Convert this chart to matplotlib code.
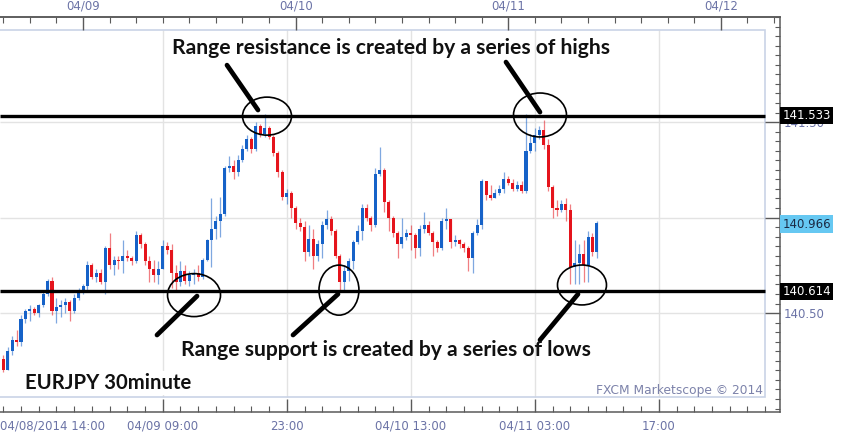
"""EURJPY 30 minute chart with range support / resistance annotations."""

from datetime import datetime

import matplotlib

matplotlib.use("Agg")
import matplotlib.dates as mdates
import matplotlib.pyplot as plt
import numpy as np
import pandas as pd
from matplotlib.patches import Ellipse, Rectangle
from matplotlib.ticker import FixedFormatter, FixedLocator, MultipleLocator


# ---- data (30 minute bars from 04/08 15:00) ----
FIRST_BAR = "2014-04-08 15:00"
FIRST_OPEN = 140.26

close = [
    140.20, 140.30, 140.36, 140.35, 140.47, 140.51, 140.52, 140.50, 140.54, 140.60,
    140.67, 140.51, 140.53, 140.54, 140.56, 140.51, 140.58, 140.62, 140.64, 140.75,
    140.69, 140.71, 140.66, 140.84, 140.75, 140.78, 140.77, 140.80, 140.79, 140.77,
    140.91, 140.86, 140.77, 140.73, 140.70, 140.73, 140.85, 140.83, 140.71, 140.66,
    140.72, 140.67, 140.70, 140.71, 140.69, 140.78, 140.88, 140.94, 140.98, 141.02,
    141.26, 141.27, 141.24, 141.30, 141.36, 141.41, 141.36, 141.48, 141.44, 141.47,
    141.42, 141.34, 141.24, 141.11, 141.13, 141.05, 140.97, 140.95, 140.82, 140.89,
    140.80, 140.86, 140.96, 140.99, 140.93, 140.80, 140.66, 140.72, 140.77, 140.87,
    140.93, 141.05, 141.00, 140.96, 141.23, 141.25, 141.08, 141.00, 140.92, 140.86,
    140.90, 140.92, 140.91, 140.84, 140.94, 140.96, 140.92, 140.87, 140.84, 140.98,
    140.99, 140.87, 140.88, 140.86, 140.84, 140.79, 140.92, 140.96, 141.19, 141.12,
    141.10, 141.13, 141.15, 141.20, 141.18, 141.15, 141.17, 141.14, 141.35, 141.39,
    141.43, 141.46, 141.38, 141.16, 141.05, 141.04, 141.07, 141.04, 140.74, 140.76,
    140.81, 140.75, 140.90, 140.82, 140.97,
]

high = [
    140.28, 140.32, 140.38, 140.41, 140.49, 140.52, 140.54, 140.53, 140.55, 140.61,
    140.68, 140.69, 140.58, 140.57, 140.58, 140.57, 140.60, 140.63, 140.65, 140.77,
    140.76, 140.73, 140.73, 140.85, 140.92, 140.80, 140.80, 140.88, 140.83, 140.80,
    140.93, 140.92, 140.87, 140.80, 140.78, 140.77, 140.88, 140.87, 140.86, 140.75,
    140.77, 140.75, 140.72, 140.73, 140.75, 140.79, 140.89, 141.10, 141.01, 141.11,
    141.27, 141.32, 141.30, 141.33, 141.38, 141.43, 141.42, 141.50, 141.49, 141.54,
    141.48, 141.43, 141.35, 141.25, 141.15, 141.14, 141.06, 141.00, 140.98, 140.96,
    140.94, 140.88, 140.98, 141.04, 141.01, 140.94, 140.81, 140.75, 140.79, 140.88,
    140.96, 141.07, 141.07, 141.01, 141.26, 141.37, 141.26, 141.09, 141.01, 140.93,
    141.00, 140.94, 140.96, 140.92, 140.96, 141.03, 140.98, 140.93, 140.88, 141.00,
    141.05, 140.99, 140.91, 140.89, 140.87, 140.85, 140.93, 140.99, 141.20, 141.19,
    141.17, 141.15, 141.17, 141.24, 141.22, 141.20, 141.19, 141.19, 141.54, 141.44,
    141.47, 141.48, 141.51, 141.41, 141.17, 141.09, 141.09, 141.10, 141.07, 140.88,
    140.86, 140.88, 140.93, 140.92, 140.98,
]

low = [
    140.19, 140.20, 140.28, 140.33, 140.33, 140.45, 140.46, 140.49, 140.48, 140.53,
    140.59, 140.49, 140.45, 140.48, 140.50, 140.46, 140.50, 140.57, 140.60, 140.62,
    140.68, 140.66, 140.65, 140.60, 140.73, 140.70, 140.73, 140.71, 140.77, 140.75,
    140.76, 140.84, 140.75, 140.66, 140.66, 140.65, 140.73, 140.81, 140.63, 140.62,
    140.64, 140.65, 140.64, 140.65, 140.67, 140.68, 140.77, 140.74, 140.89, 140.90,
    141.01, 141.24, 141.20, 141.22, 141.29, 141.35, 141.34, 141.35, 141.42, 141.42,
    141.41, 141.32, 141.21, 141.09, 141.07, 141.00, 140.94, 140.93, 140.77, 140.80,
    140.73, 140.77, 140.79, 140.94, 140.91, 140.79, 140.62, 140.62, 140.67, 140.73,
    140.86, 140.88, 140.98, 140.93, 140.95, 141.22, 141.03, 140.93, 140.90, 140.79,
    140.84, 140.88, 140.83, 140.79, 140.80, 140.92, 140.91, 140.80, 140.82, 140.83,
    140.94, 140.84, 140.85, 140.84, 140.82, 140.72, 140.71, 140.91, 140.94, 141.09,
    141.09, 141.10, 141.12, 141.13, 141.17, 141.14, 141.14, 141.13, 141.13, 141.34,
    141.35, 141.41, 141.36, 141.14, 141.00, 141.01, 141.03, 140.98, 140.65, 140.65,
    140.65, 140.66, 140.66, 140.80, 140.79,
]

RESISTANCE = 141.533
SUPPORT = 140.614
LAST_PRICE = 140.966

price_ticks = [140.50, 141.00, 141.50]
price_tick_labels = ["140.50", "", "141.50"]   # 141.00 sits under the last-price box
bottom_tick_times = ["2014-04-09 09:00", "2014-04-09 23:00", "2014-04-10 13:00",
                     "2014-04-11 03:00", "2014-04-11 17:00"]
bottom_tick_labels = ["04/09 09:00", "23:00", "04/10 13:00", "04/11 03:00", "17:00"]
FIRST_TIME_LABEL = "04/08/2014 14:00"

# ---- styling ----
UP_COLOR = "#1662c8"
DOWN_COLOR = "#e5141c"
AXIS_COLOR = "#5a5a5a"
LABEL_COLOR = "#6b73a6"
GRID_COLOR = "#e3e3e3"
FRAME_COLOR = "#c9d3e6"
ANNOT_FONT = ["Lato", "DejaVu Sans"]

BASE = mdates.date2num(datetime(2014, 4, 8))


def at(hours):
    """Hours since 04/08 00:00 -> matplotlib date number."""
    return BASE + hours / 24.0


def num(ts):
    return mdates.date2num(pd.Timestamp(ts).to_pydatetime())


times = pd.date_range(FIRST_BAR, periods=len(close), freq="30min")
x = mdates.date2num(times.to_pydatetime())
c = np.asarray(close)
o = np.concatenate([[FIRST_OPEN], c[:-1]])
h = np.asarray(high)
lo = np.asarray(low)
up = c >= o
colors = np.where(up, UP_COLOR, DOWN_COLOR)

x_left, x_right = at(14.63), at(102.67)
frame_right = at(100.97)
y_bottom, y_top = 139.982, 142.05
frame_bottom, frame_top = 140.06, 141.982

fig = plt.figure(figsize=(8.43, 4.38), dpi=100)
ax = fig.add_axes([0.0, 26 / 438, 780 / 843, 395 / 438])
ax.set_xlim(x_left, x_right)
ax.set_ylim(y_bottom, y_top)

# inner chart frame and grid
ax.add_patch(Rectangle((x_left - 1, frame_bottom), frame_right - x_left + 1,
                       frame_top - frame_bottom, fill=False, ec=FRAME_COLOR,
                       lw=1.2, zorder=0.6))
for t in bottom_tick_times:
    ax.vlines(num(t), frame_bottom, frame_top, color=GRID_COLOR, lw=1, zorder=0.5)
for level in price_ticks:
    ax.hlines(level, x_left, frame_right, color=GRID_COLOR, lw=1, zorder=0.5)

# candles
bar_w = 0.34 / 24
ax.vlines(x, lo, h, colors=colors, lw=0.9, alpha=0.55, zorder=2)
body = np.where(np.abs(c - o) < 0.004, 0.004, c - o)
ax.bar(x, body, bottom=o, width=bar_w, color=colors, lw=0, zorder=2.2)

# range lines
ax.hlines([RESISTANCE, SUPPORT], x_left, frame_right, color="black", lw=2.4, zorder=3)

# circles around the highs / lows
ellipses = [
    (44.77, 141.531, 5.53, 0.199),
    (75.58, 141.537, 5.98, 0.230),
    (36.53, 140.594, 5.98, 0.225),
    (52.89, 140.620, 4.51, 0.262),
    (80.32, 140.647, 5.53, 0.209),
]
for hx, py, w, ht in ellipses:
    ax.add_patch(Ellipse((at(hx), py), w / 24, ht, fill=False, ec="black",
                         lw=1.2, zorder=4))

pointers = [
    ((40.25, 141.798), (43.75, 141.563)),
    ((71.74, 141.814), (75.58, 141.552)),
    ((32.35, 140.385), (36.87, 140.589)),
    ((47.70, 140.385), (52.78, 140.599)),
    ((75.58, 140.359), (79.87, 140.599)),
]
for (h0, p0), (h1, p1) in pointers:
    ax.plot([at(h0), at(h1)], [p0, p1], color="black", lw=3.4,
            solid_capstyle="round", zorder=4)

ax.text(at(58.76), 141.887, "Range resistance is created by a series of highs",
        ha="center", va="center", fontsize=15.2, fontweight="bold",
        family=ANNOT_FONT, color="#111111", zorder=5)
ax.text(at(58.2), 140.306, "Range support is created by a series of lows",
        ha="center", va="center", fontsize=15.2, fontweight="bold",
        family=ANNOT_FONT, color="#111111", zorder=5)
ax.text(at(17.45), 140.134, "EURJPY 30minute", ha="left", va="center",
        fontsize=14.6, fontweight="bold", family=ANNOT_FONT, color="#111111",
        zorder=5, bbox=dict(boxstyle="square,pad=0.12", fc="white", ec="none"))
ax.text(at(100.75), 140.092, "FXCM Marketscope \u00a9 2014", ha="right",
        va="center", fontsize=8.8, color="#7c82aa", zorder=5)

# price boxes on the right scale
yx = ax.get_yaxis_transform()
for price, fc, tc in [(RESISTANCE, "black", "white"),
                      (LAST_PRICE, "#66c8f2", "#1b2a44"),
                      (SUPPORT, "black", "white")]:
    ax.text(1.003, price, f"{price:.3f}", transform=yx, ha="left", va="center",
            fontsize=8.5, color=tc, zorder=10, clip_on=False,
            bbox=dict(boxstyle="square,pad=0.18", fc=fc, ec="none"))

# spines
for side in ("top", "right", "bottom"):
    ax.spines[side].set_color(AXIS_COLOR)
    ax.spines[side].set_linewidth(1.1)
ax.spines["left"].set_visible(False)

# bottom time axis
ax.xaxis.set_major_locator(FixedLocator([num(t) for t in bottom_tick_times]))
ax.xaxis.set_major_formatter(FixedFormatter(bottom_tick_labels))
ax.xaxis.set_minor_locator(mdates.HourLocator(byhour=range(1, 24, 2)))
ax.tick_params(axis="x", which="major", direction="in", length=9.5, width=1,
               color=AXIS_COLOR, labelcolor=LABEL_COLOR, labelsize=8.5, pad=5.5)
ax.tick_params(axis="x", which="minor", direction="in", length=4.5, width=0.8,
               color=AXIS_COLOR)
ax.annotate(FIRST_TIME_LABEL, xy=(0, 0), xycoords="axes fraction",
            xytext=(0, -5.5), textcoords="offset points", ha="left", va="top",
            fontsize=8.5, color=LABEL_COLOR, annotation_clip=False)

# right price axis
ax.yaxis.tick_right()
ax.yaxis.set_major_locator(FixedLocator(price_ticks))
ax.yaxis.set_major_formatter(FixedFormatter(price_tick_labels))
ax.yaxis.set_minor_locator(MultipleLocator(0.05))
ax.tick_params(axis="y", which="major", direction="in", length=10.8, width=1,
               color=AXIS_COLOR, labelcolor=LABEL_COLOR, labelsize=8.5, pad=3)
ax.tick_params(axis="y", which="minor", direction="in", length=3.8, width=0.8,
               color=AXIS_COLOR)

# top date axis
top = ax.twiny()
top.set_xlim(x_left, x_right)
top.xaxis.set_major_locator(mdates.DayLocator())
top.xaxis.set_major_formatter(mdates.DateFormatter("%m/%d"))
top.xaxis.set_minor_locator(mdates.HourLocator(byhour=range(0, 24, 3)))
top.tick_params(axis="x", which="major", direction="in", length=9.5, width=1,
                color=AXIS_COLOR, labelcolor=LABEL_COLOR, labelsize=8.5, pad=3)
top.tick_params(axis="x", which="minor", direction="in", length=4, width=0.8,
                color=AXIS_COLOR)
for side in ("left", "right", "bottom"):
    top.spines[side].set_visible(False)
top.spines["top"].set_color(AXIS_COLOR)
top.spines["top"].set_linewidth(1.1)

fig.savefig("out.png", dpi=100, facecolor="white")
plt.close(fig)
